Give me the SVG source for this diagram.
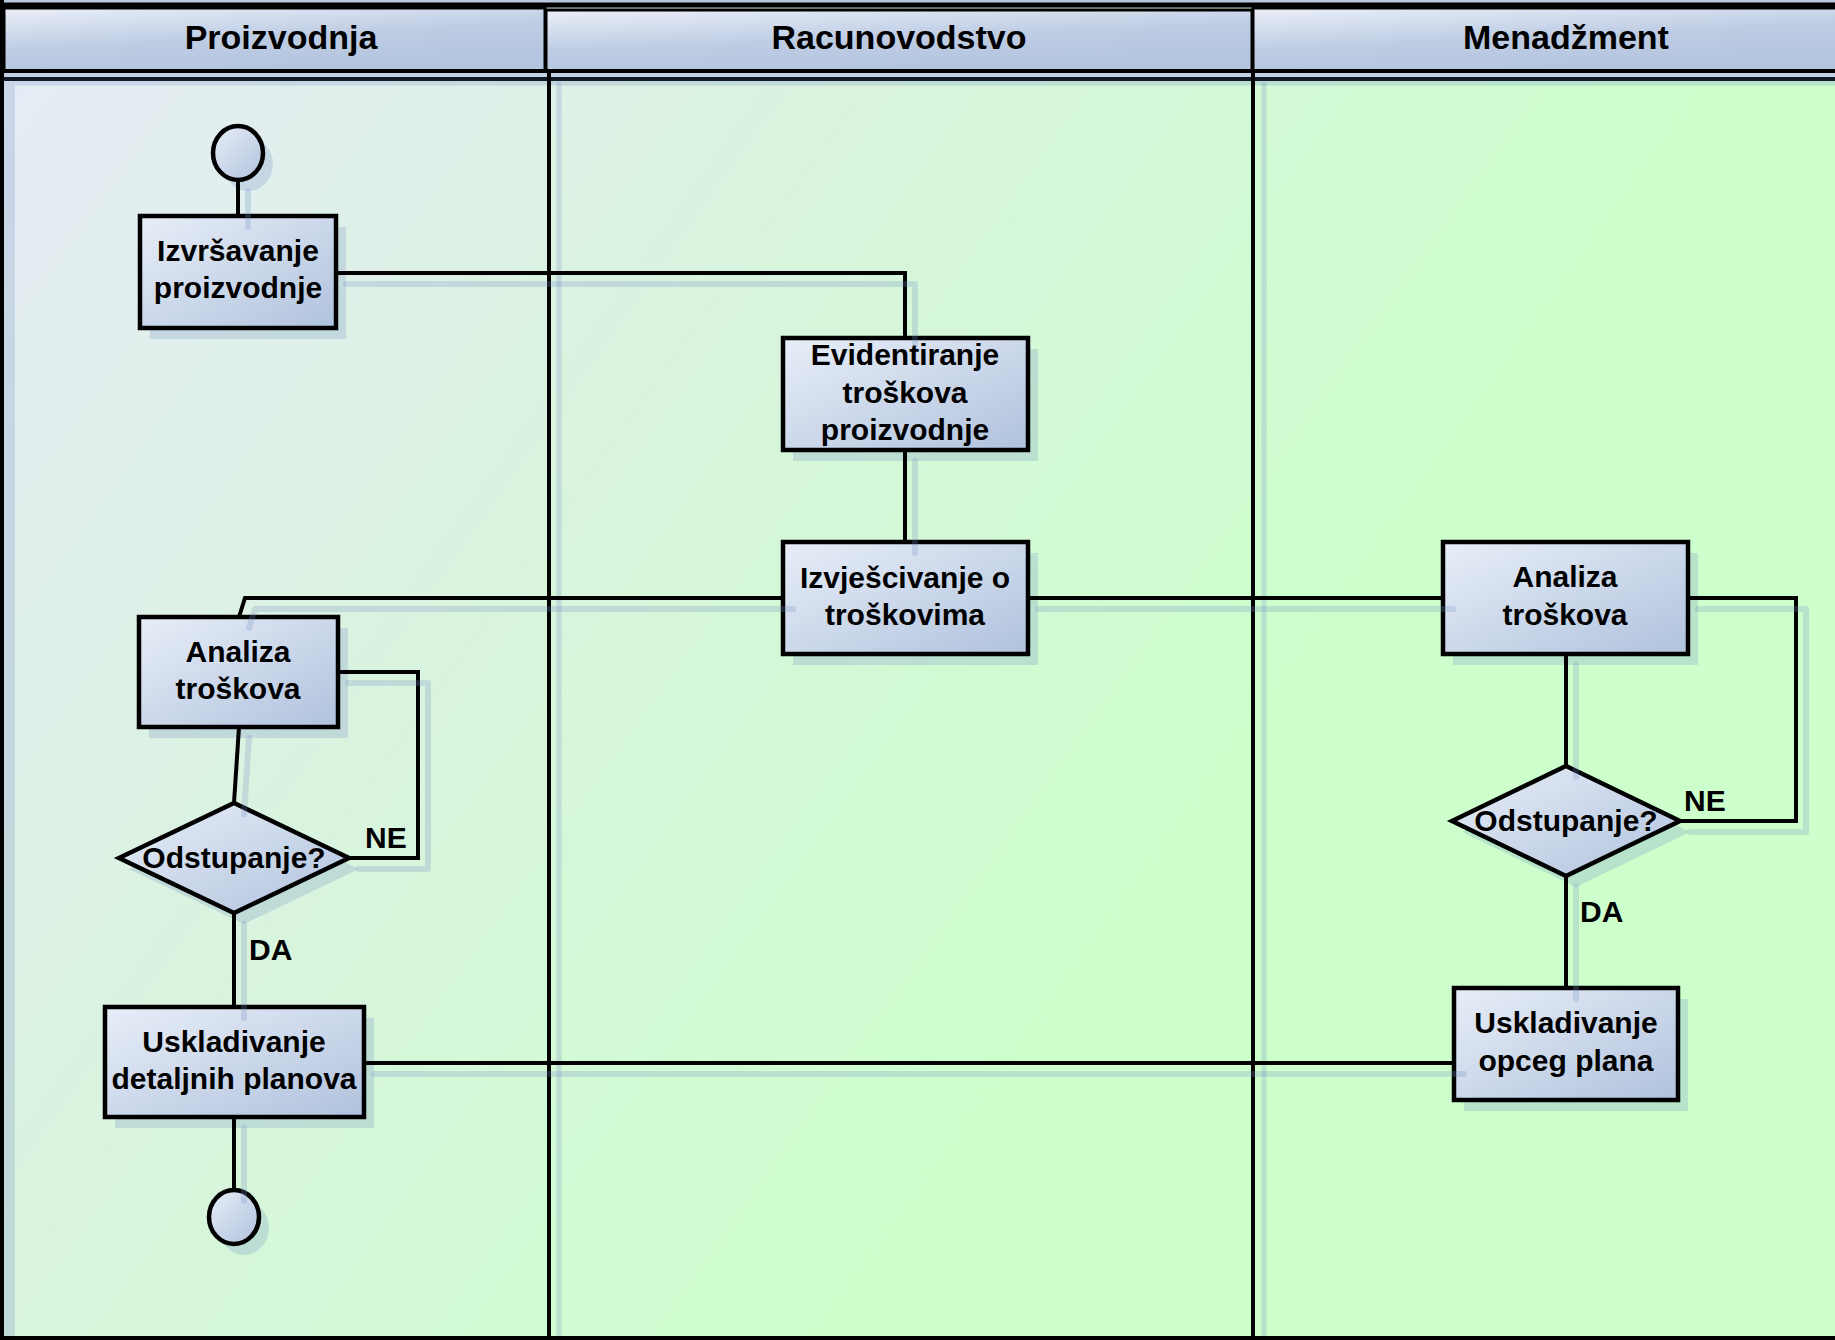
<svg xmlns="http://www.w3.org/2000/svg" width="1835" height="1340" viewBox="0 0 1835 1340">
  <defs>
    <linearGradient id="laneFill" gradientUnits="userSpaceOnUse" x1="0" y1="80" x2="1150" y2="900">
      <stop offset="0" stop-color="#e6ecf6"/>
      <stop offset="0.45" stop-color="#daf3e0"/>
      <stop offset="1" stop-color="#ccffcc"/>
    </linearGradient>
    <linearGradient id="headFill" x1="0" y1="0" x2="0.45" y2="1">
      <stop offset="0" stop-color="#eaeff8"/>
      <stop offset="0.55" stop-color="#bfcde4"/>
      <stop offset="1" stop-color="#b4c5df"/>
    </linearGradient>
    <linearGradient id="nodeFill" x1="0" y1="0" x2="1" y2="1">
      <stop offset="0" stop-color="#e8eef8"/>
      <stop offset="1" stop-color="#b0c2dd"/>
    </linearGradient>
  </defs>
  <style>
    text { font-family: "Liberation Sans", Arial, sans-serif; font-weight: bold; fill: #000; }
    .head { font-size: 34px; text-anchor: middle; }
    .lbl { font-size: 30px; text-anchor: middle; }
    .edge-label { font-size: 30px; }
    .node { fill: url(#nodeFill); stroke: #000; stroke-width: 4.5; }
    .shadow { fill: #728ec2; fill-opacity: 0.25; }
    .lane-shadow { stroke: #728ec2; stroke-opacity: 0.25; stroke-width: 5; fill: none; }
    .conn { fill: none; stroke: #000; stroke-width: 4; }
    .conn-shadow { fill: none; stroke: #728ec2; stroke-opacity: 0.25; stroke-width: 6; stroke-linecap: round; stroke-linejoin: round; }
    .frame { stroke: #000; stroke-width: 4; fill: none; }
    .head-box { fill: url(#headFill); stroke: #000; stroke-width: 3; }
  </style>

  <!-- swimlane pool -->
  <g id="pool">
    <rect x="0" y="0" width="1835" height="1340" fill="url(#laneFill)"/>
    <rect x="0" y="0" width="1835" height="8" fill="#b9c8de"/>
    <rect x="0" y="71" width="1835" height="7" fill="#c3d0e4"/>
    <rect x="4" y="80" width="11" height="1260" fill="#728ec2" fill-opacity="0.25"/>
    <line class="lane-shadow" x1="559" y1="82" x2="559" y2="1340"/>
    <line class="lane-shadow" x1="1264" y1="82" x2="1264" y2="1340"/>
    <line class="lane-shadow" x1="15" y1="83" x2="1835" y2="83"/>

    <g id="lane-proizvodnja">
      <rect class="head-box" x="4" y="8" width="541" height="63"/>
      <text class="head" x="281" y="49">Proizvodnja</text>
    </g>
    <g id="lane-racunovodstvo">
      <rect class="head-box" x="546" y="10" width="706" height="61"/>
      <text class="head" x="899" y="49">Racunovodstvo</text>
    </g>
    <g id="lane-menadzment">
      <rect class="head-box" x="1253" y="8" width="600" height="63"/>
      <text class="head" x="1566" y="49">Menadžment</text>
    </g>

    <line x1="0" y1="5" x2="1835" y2="5" stroke="#000" stroke-width="5"/>
    <line class="frame" x1="0" y1="71" x2="1835" y2="71"/>
    <line x1="0" y1="79" x2="1835" y2="79" stroke="#121a28" stroke-width="4"/>
    <line x1="2" y1="0" x2="2" y2="1340" stroke="#000" stroke-width="4"/>
    <line class="frame" x1="549" y1="71" x2="549" y2="1340"/>
    <line class="frame" x1="1253" y1="71" x2="1253" y2="1340"/>
    <line class="frame" x1="0" y1="1338" x2="1835" y2="1338"/>
  </g>

  <!-- drop shadows of the shapes -->
  <g id="node-shadows" transform="translate(10,11)">
    <ellipse class="shadow" cx="238" cy="153" rx="25" ry="27"/>
    <rect class="shadow" x="140" y="216" width="196" height="112"/>
    <rect class="shadow" x="783" y="338" width="245" height="112"/>
    <rect class="shadow" x="783" y="542" width="245" height="112"/>
    <rect class="shadow" x="139" y="617" width="199" height="110"/>
    <polygon class="shadow" points="119,858 234,803 349,858 234,913"/>
    <rect class="shadow" x="105" y="1007" width="259" height="110"/>
    <ellipse class="shadow" cx="234" cy="1217" rx="25" ry="27"/>
    <rect class="shadow" x="1443" y="542" width="245" height="112"/>
    <polygon class="shadow" points="1452,821 1566,766 1680,821 1566,876"/>
    <rect class="shadow" x="1454" y="988" width="224" height="112"/>
  </g>

  <!-- flow lines -->
  <g id="connectors">
    <path class="conn" d="M238,180 V216"/>
    <path class="conn" d="M336,273 H905 V338"/>
    <path class="conn" d="M905,450 V542"/>
    <path class="conn" d="M783,598 H245 L239,617"/>
    <path class="conn" d="M239,727 L234,803"/>
    <path class="conn" d="M338,672 H418 V858 H349"/>
    <path class="conn" d="M234,913 V1007"/>
    <path class="conn" d="M234,1117 V1190"/>
    <path class="conn" d="M364,1063 H1454"/>
    <path class="conn" d="M1028,598 H1443"/>
    <path class="conn" d="M1688,598 H1796 V821 H1680"/>
    <path class="conn" d="M1566,654 V766"/>
    <path class="conn" d="M1566,876 V988"/>
  </g>

  <g id="start">
    <ellipse class="node" cx="238" cy="153" rx="25" ry="27"/>
  </g>
  <g id="izvrsavanje-proizvodnje">
    <rect class="node" x="140" y="216" width="196" height="112"/>
  </g>
  <g id="evidentiranje-troskova">
    <rect class="node" x="783" y="338" width="245" height="112"/>
  </g>
  <g id="izvjescivanje">
    <rect class="node" x="783" y="542" width="245" height="112"/>
  </g>
  <g id="analiza-proizvodnja">
    <rect class="node" x="139" y="617" width="199" height="110"/>
  </g>
  <g id="odstupanje-proizvodnja">
    <polygon class="node" points="119,858 234,803 349,858 234,913"/>
  </g>
  <g id="uskladivanje-detaljnih">
    <rect class="node" x="105" y="1007" width="259" height="110"/>
  </g>
  <g id="end">
    <ellipse class="node" cx="234" cy="1217" rx="25" ry="27"/>
  </g>
  <g id="analiza-menadzment">
    <rect class="node" x="1443" y="542" width="245" height="112"/>
  </g>
  <g id="odstupanje-menadzment">
    <polygon class="node" points="1452,821 1566,766 1680,821 1566,876"/>
  </g>
  <g id="uskladivanje-opceg">
    <rect class="node" x="1454" y="988" width="224" height="112"/>
  </g>

  <!-- soft shadows of the flow lines, laid over the shape edges -->
  <g id="connector-shadows" transform="translate(10,11)">
    <path class="conn-shadow" d="M238,180 V216"/>
    <path class="conn-shadow" d="M336,273 H905 V338"/>
    <path class="conn-shadow" d="M905,450 V542"/>
    <path class="conn-shadow" d="M783,598 H245 L239,617"/>
    <path class="conn-shadow" d="M239,727 L234,803"/>
    <path class="conn-shadow" d="M338,672 H418 V858 H349"/>
    <path class="conn-shadow" d="M234,913 V1007"/>
    <path class="conn-shadow" d="M234,1117 V1190"/>
    <path class="conn-shadow" d="M364,1063 H1454"/>
    <path class="conn-shadow" d="M1028,598 H1443"/>
    <path class="conn-shadow" d="M1688,598 H1796 V821 H1680"/>
    <path class="conn-shadow" d="M1566,654 V766"/>
    <path class="conn-shadow" d="M1566,876 V988"/>
  </g>

  <!-- shape captions -->
  <g id="captions">
    <text class="lbl" x="238" y="261">Izvršavanje</text>
    <text class="lbl" x="238" y="298">proizvodnje</text>
    <text class="lbl" x="905" y="365">Evidentiranje</text>
    <text class="lbl" x="905" y="403">troškova</text>
    <text class="lbl" x="905" y="440">proizvodnje</text>
    <text class="lbl" x="905" y="588">Izvješcivanje o</text>
    <text class="lbl" x="905" y="625">troškovima</text>
    <text class="lbl" x="238" y="662">Analiza</text>
    <text class="lbl" x="238" y="699">troškova</text>
    <text class="lbl" x="234" y="868">Odstupanje?</text>
    <text class="lbl" x="234" y="1052">Uskladivanje</text>
    <text class="lbl" x="234" y="1089">detaljnih planova</text>
    <text class="lbl" x="1565" y="587">Analiza</text>
    <text class="lbl" x="1565" y="625">troškova</text>
    <text class="lbl" x="1566" y="831">Odstupanje?</text>
    <text class="lbl" x="1566" y="1033">Uskladivanje</text>
    <text class="lbl" x="1566" y="1071">opceg plana</text>
  </g>

  <!-- branch labels -->
  <g id="branch-labels">
    <text class="edge-label" x="365" y="848">NE</text>
    <text class="edge-label" x="249" y="960">DA</text>
    <text class="edge-label" x="1684" y="811">NE</text>
    <text class="edge-label" x="1580" y="922">DA</text>
  </g>
</svg>
